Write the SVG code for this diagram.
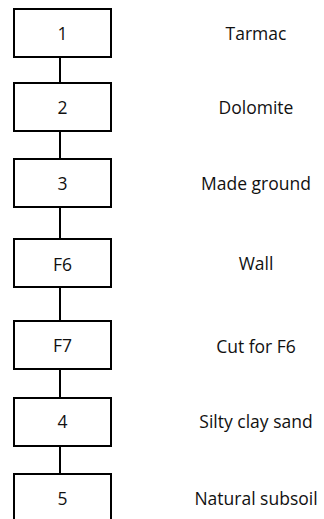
<svg xmlns="http://www.w3.org/2000/svg" width="324" height="519" viewBox="0 0 324 519">
<style>
.box{fill:#fff;stroke:#000;stroke-width:2}
.num,.lbl{font-family:"Open Sans","Liberation Sans",sans-serif;font-size:17.5px;fill:#111;text-anchor:middle}
.con{stroke:#000;stroke-width:2;fill:none}
</style>
<rect width="324" height="519" fill="#fff"/>
<g id="connectors">
<line class="con" x1="60" y1="57" x2="60" y2="83"/>
<line class="con" x1="60" y1="131" x2="60" y2="159"/>
<line class="con" x1="60" y1="207" x2="60" y2="239"/>
<line class="con" x1="60" y1="287" x2="60" y2="321"/>
<line class="con" x1="60" y1="369" x2="60" y2="398"/>
<line class="con" x1="60" y1="446" x2="60" y2="474"/>
</g>
<g id="n1"><rect class="box" x="14" y="9" width="97" height="48"/><text class="num" x="62.5" y="39.5">1</text></g>
<g id="n2"><rect class="box" x="14" y="83" width="97" height="48"/><text class="num" x="62.5" y="113.5">2</text></g>
<g id="n3"><rect class="box" x="14" y="159" width="97" height="48"/><text class="num" x="62.5" y="189.5">3</text></g>
<g id="nF6"><rect class="box" x="14" y="239" width="97" height="48"/><text class="num" x="62.5" y="270.5">F6</text></g>
<g id="nF7"><rect class="box" x="14" y="321" width="97" height="48"/><text class="num" x="62.5" y="352">F7</text></g>
<g id="n4"><rect class="box" x="14" y="398" width="97" height="48"/><text class="num" x="62.5" y="428">4</text></g>
<g id="n5"><rect class="box" x="14" y="474" width="97" height="48"/><text class="num" x="62.5" y="505">5</text></g>
<g id="labels">
<text class="lbl" x="256" y="40">Tarmac</text>
<text class="lbl" x="256" y="114">Dolomite</text>
<text class="lbl" x="256" y="190">Made ground</text>
<text class="lbl" x="256" y="270">Wall</text>
<text class="lbl" x="256" y="353">Cut for F6</text>
<text class="lbl" x="256" y="428">Silty clay sand</text>
<text class="lbl" x="256" y="505">Natural subsoil</text>
</g>
</svg>
